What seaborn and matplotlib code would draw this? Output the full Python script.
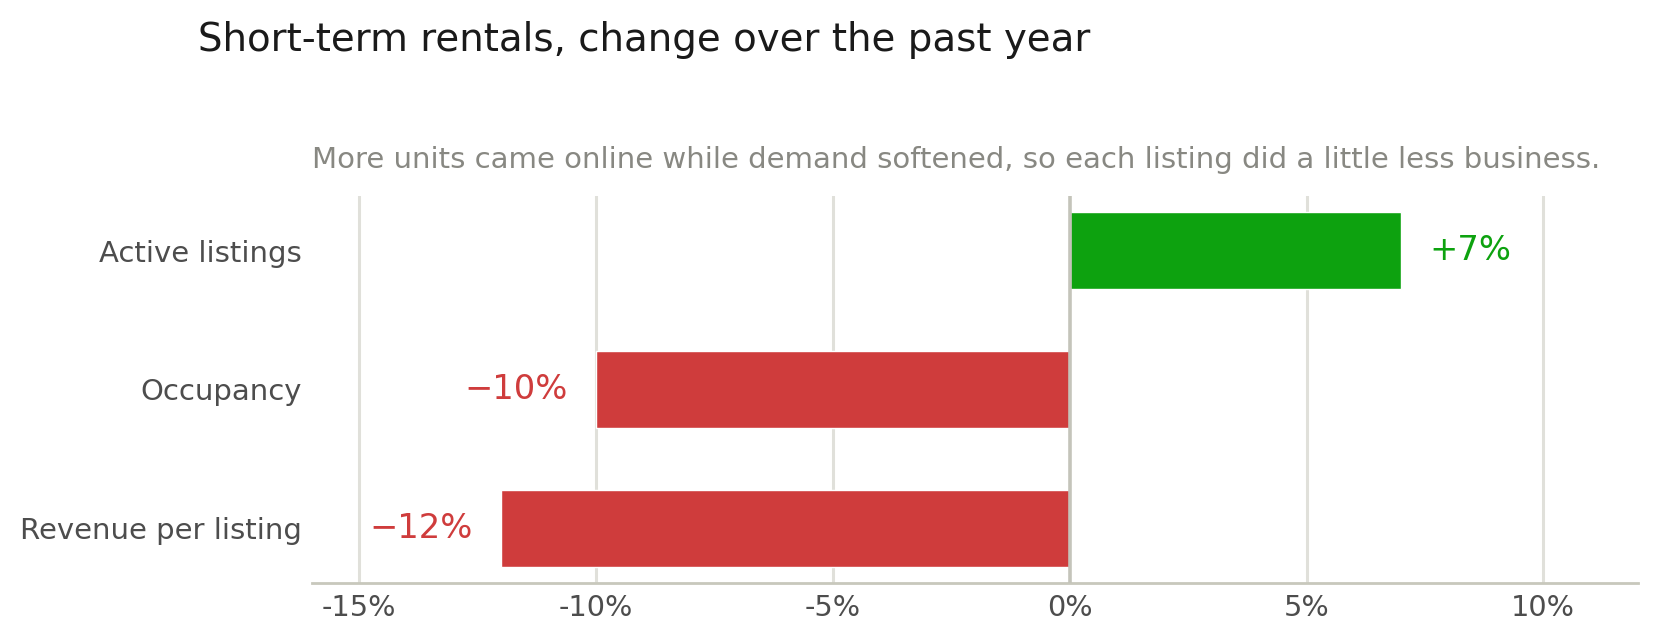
import matplotlib
matplotlib.use("Agg")
import matplotlib.pyplot as plt
import seaborn as sns
import pandas as pd

categories = ["Active listings", "Occupancy", "Revenue per listing"]
values = [7, -10, -12]
value_labels = ["+7%", "\u221210%", "\u221212%"]
xticks = [-15, -10, -5, 0, 5, 10]
xtick_labels = ["-15%", "-10%", "-5%", "0%", "5%", "10%"]
title = "Short-term rentals, change over the past year"
subtitle = "More units came online while demand softened, so each listing did a little less business."

GREEN = "#0da20f"
RED = "#cf3c3c"

df = pd.DataFrame({"category": categories, "value": values})
df["sign"] = ["up" if v >= 0 else "down" for v in values]

sns.set_theme(style="white")
plt.rcParams["font.family"] = ["DejaVu Sans"]

W, H = 1657, 641
fig = plt.figure(figsize=(W / 100, H / 100), dpi=100)
ax_l, ax_r, ax_t, ax_b = 312, 1638, 195.5, 582.5
ax = fig.add_axes([ax_l / W, 1 - ax_b / H, (ax_r - ax_l) / W, (ax_b - ax_t) / H])

sns.barplot(data=df, x="value", y="category", hue="sign", orient="h",
            palette={"up": GREEN, "down": RED}, width=0.55, dodge=False,
            legend=False, ax=ax, saturation=1, zorder=3)

ax.set_xlim(-16, 12)
ax.set_ylim(2.39, -0.396)
ax.set_xticks(xticks)
ax.set_xticklabels(xtick_labels)
ax.set_xlabel("")
ax.set_ylabel("")

for t in xticks:
    if t == 0:
        ax.axvline(t, color="#c4c4ba", lw=2.6, zorder=4)
    else:
        ax.axvline(t, color="#e0e0da", lw=2.2, zorder=1)

for sp in ["left", "right", "top"]:
    ax.spines[sp].set_visible(False)
ax.spines["bottom"].set_color("#c8c8bc")
ax.spines["bottom"].set_linewidth(2)

ax.tick_params(axis="x", length=0, labelsize=20.7, labelcolor="#4d4d4d", pad=8)
ax.tick_params(axis="y", length=0, labelsize=21, labelcolor="#4d4d4d", pad=7.5)

for i, (v, lab) in enumerate(zip(values, value_labels)):
    col = GREEN if v >= 0 else RED
    off = 0.6 if v >= 0 else -0.6
    ax.text(v + off, i, lab, ha="left" if v >= 0 else "right", va="center",
            fontsize=24.3, color=col, zorder=5)

fig.text(198 / W, 1 - 51 / H, title, fontsize=27.9, color="#1a1a1a",
         ha="left", va="baseline")
ax.set_title(subtitle, loc="left", fontsize=21, color="#888882", pad=20)

fig.savefig("out.png", dpi=100)
